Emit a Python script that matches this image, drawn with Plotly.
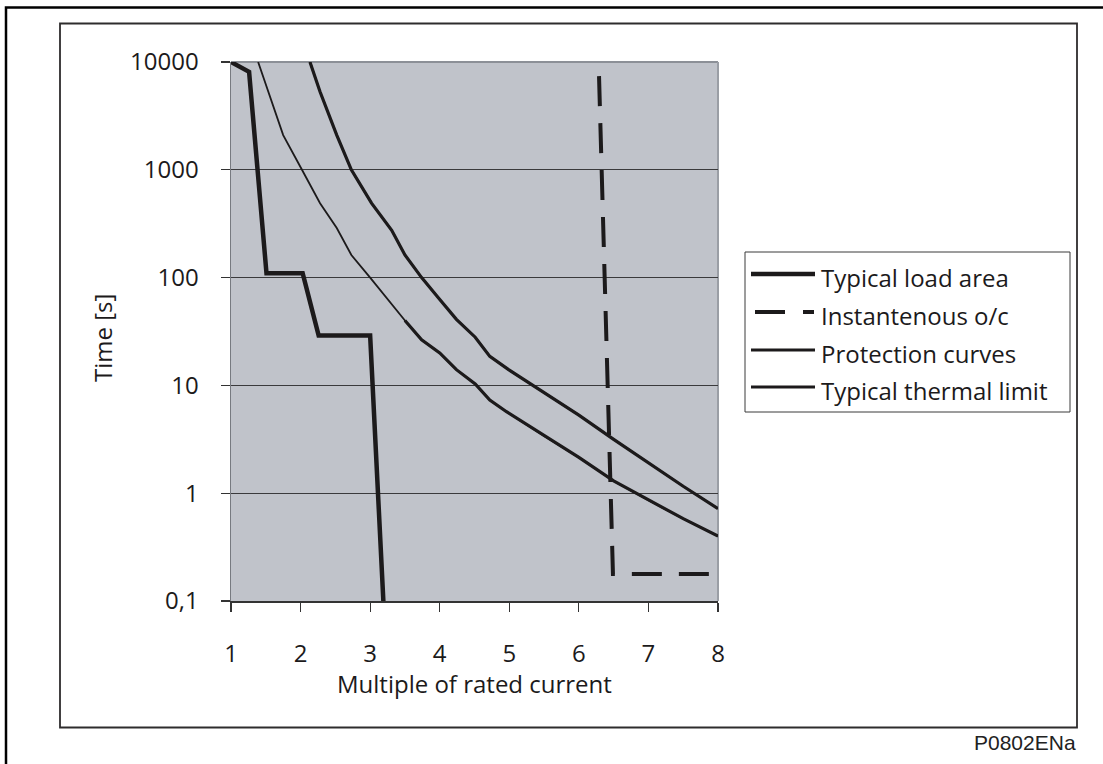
import plotly.graph_objects as go

# ---------------- data ----------------
load_x = [1.0, 1.26, 1.51, 2.03, 2.26, 3.0, 3.19]
load_y = [10000, 8100, 110, 110, 29, 29, 0.1]

inst_x = [6.29, 6.49, 8.0]
inst_y = [7400, 0.178, 0.178]

prot_a_x = [1.39, 1.54, 1.75, 2.02, 2.28, 2.52, 2.73, 3.0, 3.26, 3.5, 3.74, 4.0,
            4.24, 4.51, 4.72, 4.96, 5.5, 6.0, 6.5, 7.0, 7.5, 8.0]
prot_a_y = [10000, 5300, 2100, 1000, 490, 288, 162, 100, 62, 40, 26.5, 20,
            14, 10.3, 7.3, 5.7, 3.4, 2.15, 1.3, 0.86, 0.58, 0.40]

prot_b_x = [2.135, 2.28, 2.52, 2.73, 3.02, 3.31, 3.5, 3.74, 3.98, 4.24, 4.51,
            4.72, 4.99, 5.5, 6.0, 6.5, 7.0, 7.5, 8.0]
prot_b_y = [10000, 5300, 2100, 1000, 490, 275, 162, 100, 65, 41, 28,
            18.6, 14, 8.6, 5.3, 3.16, 1.9, 1.16, 0.72]

therm_upper_x = prot_b_x
therm_upper_y = prot_b_y
therm_lower_x = [3.5, 3.74, 4.0, 4.24, 4.51, 4.72, 4.96, 5.5, 6.0, 6.5, 7.0, 7.5, 8.0]
therm_lower_y = [40, 26.5, 20, 14, 10.3, 7.3, 5.7, 3.4, 2.15, 1.3, 0.86, 0.58, 0.40]

x_ticks = [1, 2, 3, 4, 5, 6, 7, 8]
y_ticks = [0.1, 1, 10, 100, 1000, 10000]
y_tick_text = ["0,1", "1", "10", "100", "1000", "10000"]

legend_labels = ["Typical load area", "Instantenous o/c", "Protection curves",
                 "Typical thermal limit"]

# ---------------- layout geometry (pixels) ----------------
W, H = 1103, 764
PL, PR, PT, PB = 231, 718, 62, 601   # plot area edges


def px(X):
    return (X - PL) / (PR - PL)


def py(Y):
    return (PB - Y) / (PB - PT)


INK = "#1c1a1b"
FONT = "Open Sans"

fig = go.Figure()
fig.add_trace(go.Scatter(x=load_x, y=load_y, mode="lines",
                         line=dict(color=INK, width=4.5), name=legend_labels[0]))
fig.add_trace(go.Scatter(x=inst_x, y=inst_y, mode="lines",
                         line=dict(color=INK, width=4, dash="30px,17px"),
                         name=legend_labels[1]))
fig.add_trace(go.Scatter(x=prot_a_x, y=prot_a_y, mode="lines",
                         line=dict(color=INK, width=1.8), name=legend_labels[2]))
fig.add_trace(go.Scatter(x=prot_b_x, y=prot_b_y, mode="lines",
                         line=dict(color=INK, width=1.8), name=legend_labels[2]))
fig.add_trace(go.Scatter(x=therm_upper_x, y=therm_upper_y, mode="lines",
                         line=dict(color=INK, width=3.2), name=legend_labels[3]))
fig.add_trace(go.Scatter(x=therm_lower_x, y=therm_lower_y, mode="lines",
                         line=dict(color=INK, width=3.2), name=legend_labels[3]))

shapes = []
# outer black frame
shapes.append(dict(type="rect", xref="paper", yref="paper",
                   x0=px(6), x1=px(1200), y0=py(7.5), y1=py(900),
                   line=dict(color="#000000", width=2.5), layer="above"))
# inner chart frame
shapes.append(dict(type="rect", xref="paper", yref="paper",
                   x0=px(60), x1=px(1077), y0=py(23.5), y1=py(727.5),
                   line=dict(color="#2e2c2d", width=1.8), layer="above"))
# light plot-area edges (top & right)
shapes.append(dict(type="line", xref="paper", yref="paper",
                   x0=0, x1=1, y0=1, y1=1,
                   line=dict(color="#8c9097", width=2), layer="between"))
shapes.append(dict(type="line", xref="paper", yref="paper",
                   x0=1, x1=1, y0=0, y1=1,
                   line=dict(color="#9a9ea5", width=2), layer="between"))

# manual legend
LB_L, LB_R, LB_T, LB_B = 745, 1070, 252, 412
shapes.append(dict(type="rect", xref="paper", yref="paper",
                   x0=px(LB_L), x1=px(LB_R), y0=py(LB_T), y1=py(LB_B),
                   line=dict(color="#3a3a3a", width=1), fillcolor="white",
                   layer="above"))
row_y = [277, 315, 353, 390]
sample_w = [4.5, 4, 2.8, 3.2]
annotations = []
for i, lab in enumerate(legend_labels):
    ly = row_y[i] - 3
    if i == 1:
        shapes.append(dict(type="line", xref="paper", yref="paper",
                           x0=px(755), x1=px(785), y0=py(ly), y1=py(ly),
                           line=dict(color=INK, width=sample_w[i]), layer="above"))
        shapes.append(dict(type="line", xref="paper", yref="paper",
                           x0=px(803), x1=px(814), y0=py(ly), y1=py(ly),
                           line=dict(color=INK, width=sample_w[i]), layer="above"))
    else:
        shapes.append(dict(type="line", xref="paper", yref="paper",
                           x0=px(751), x1=px(815), y0=py(ly), y1=py(ly),
                           line=dict(color=INK, width=sample_w[i]), layer="above"))
    annotations.append(dict(text=lab, xref="paper", yref="paper",
                            x=px(819), y=py(row_y[i]), xanchor="left",
                            yanchor="middle", showarrow=False,
                            font=dict(family=FONT, size=24, color=INK)))

# axis titles
annotations.append(dict(text="Time [s]", xref="paper", yref="paper",
                        x=px(102), y=py(338), textangle=-90, showarrow=False,
                        xanchor="center", yanchor="middle",
                        font=dict(family=FONT, size=24, color=INK)))
annotations.append(dict(text="Multiple of rated current", xref="paper", yref="paper",
                        x=px(474), y=py(683), showarrow=False,
                        xanchor="center", yanchor="middle",
                        font=dict(family=FONT, size=24, color=INK)))
# figure code
annotations.append(dict(text="P0802ENa", xref="paper", yref="paper",
                        x=px(1078), y=py(742), showarrow=False,
                        xanchor="right", yanchor="middle",
                        font=dict(family="Liberation Sans", size=21, color="#222222")))

fig.update_layout(
    width=W, height=H,
    margin=dict(l=PL, r=W - PR, t=PT, b=H - PB, pad=0),
    paper_bgcolor="white",
    plot_bgcolor="#c0c3ca",
    showlegend=False,
    hovermode=False,
    shapes=shapes,
    annotations=annotations,
    font=dict(family=FONT, size=24, color=INK),
    xaxis=dict(range=[1, 8], tickvals=x_ticks, ticks="outside", ticklen=9,
               tickcolor="#333333", tickwidth=1.2, showline=True,
               linecolor="#333333", linewidth=1.5, showgrid=False,
               zeroline=False, ticklabelstandoff=22, fixedrange=True,
               tickfont=dict(family=FONT, size=24, color=INK)),
    yaxis=dict(type="log", range=[-1, 4], tickvals=y_ticks, ticktext=y_tick_text,
               ticks="outside", ticklen=9, tickcolor="#333333", tickwidth=1.2,
               showline=True, linecolor="#777a80", linewidth=1.5,
               showgrid=True, gridcolor="#3a3a3c", gridwidth=1,
               zeroline=False, ticklabelstandoff=17, fixedrange=True,
               tickfont=dict(family=FONT, size=24, color=INK)),
)

fig.write_html(
    "out.html",
    config={"displayModeBar": False, "staticPlot": True},
    post_script="document.body.style.margin='0px';document.body.style.overflow='hidden';",
)
